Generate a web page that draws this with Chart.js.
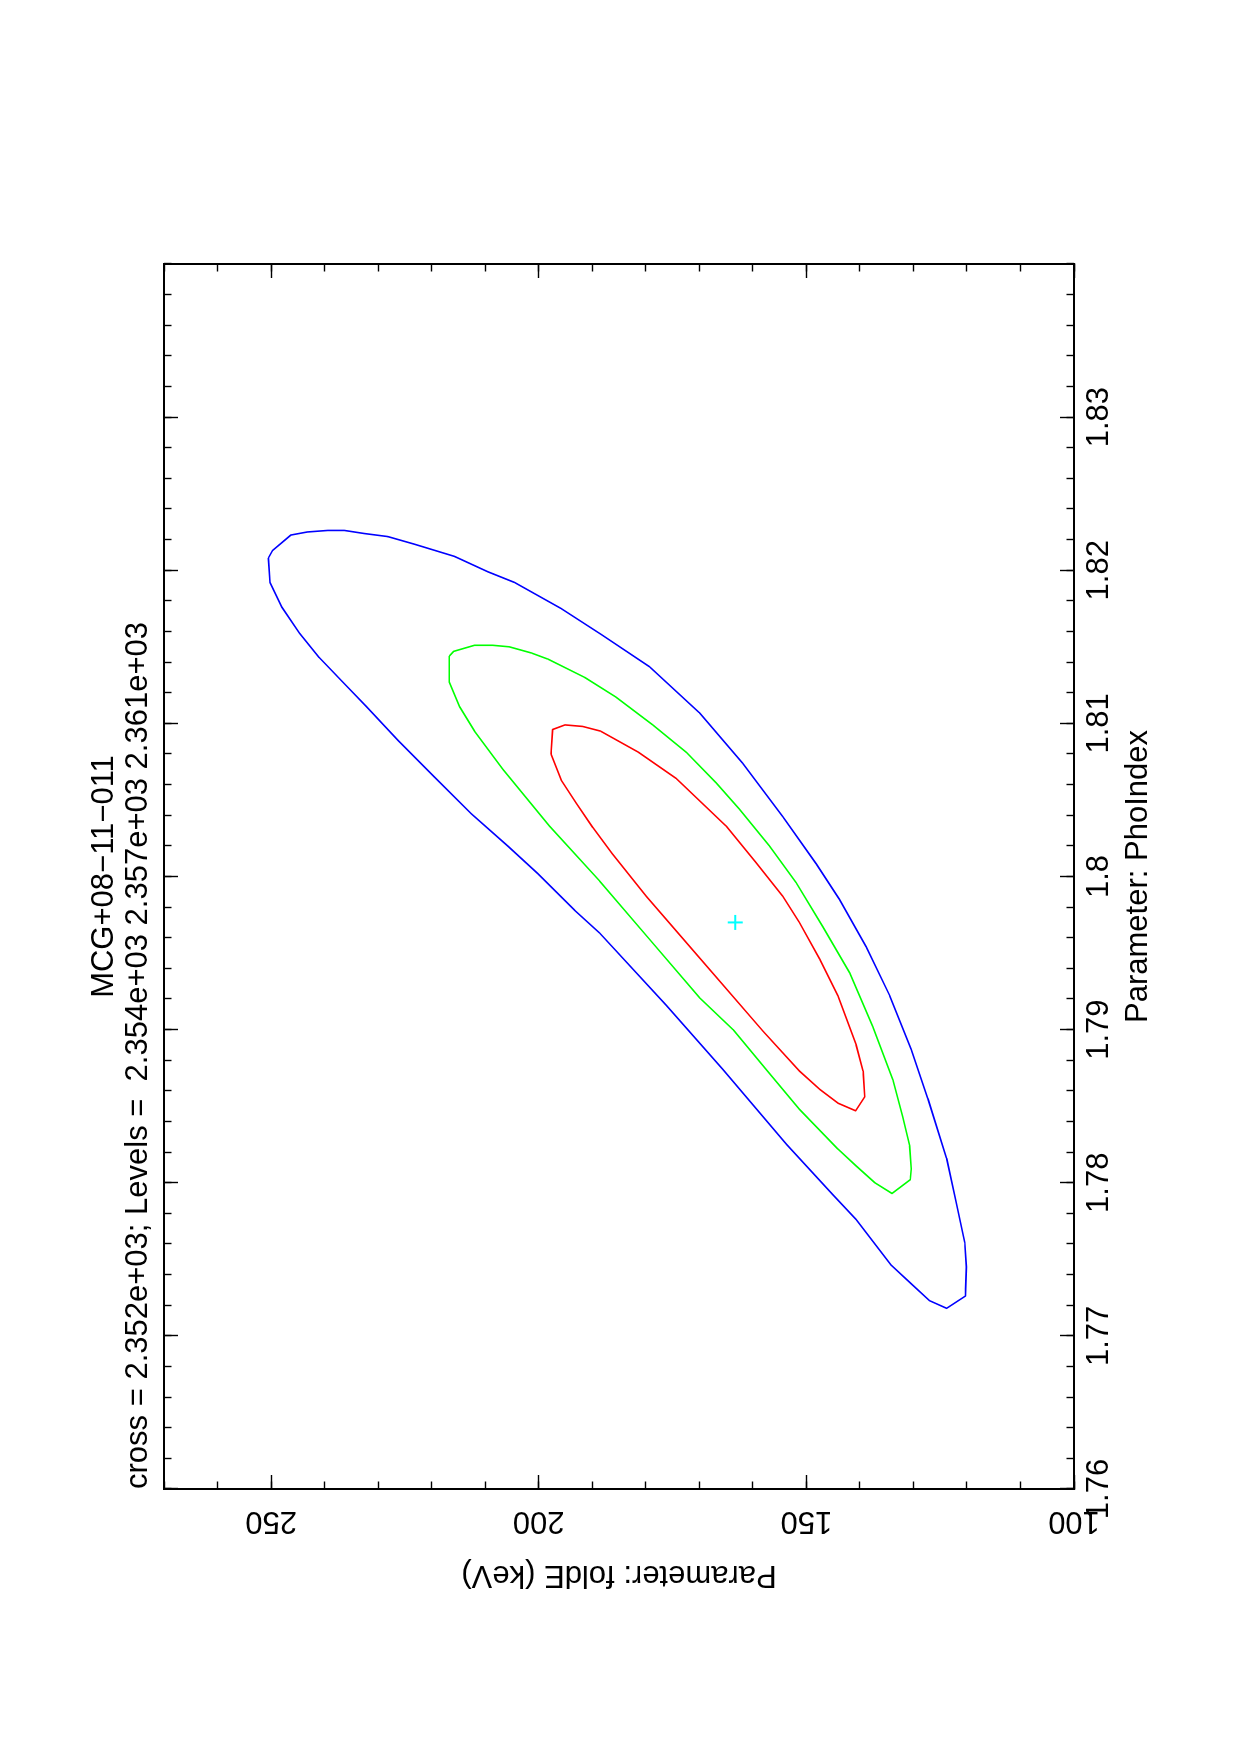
<!DOCTYPE html>
<html>
<head>
<meta charset="utf-8">
<script src="https://cdn.jsdelivr.net/npm/chart.js@4.4.1/dist/chart.umd.min.js"></script>
<style>
  html, body { margin: 0; padding: 0; background: #fff; width: 1240px; height: 1755px; overflow: hidden; }
  /* the plot is drawn landscape and turned a quarter turn, as in the printed page */
  #wrap { position: absolute; left: 0; top: 0; width: 1755px; height: 1240px;
          transform-origin: 0 0; transform: translate(0px, 1755px) rotate(-90deg); }
</style>
</head>
<body>
<div id="wrap"><canvas id="contour" width="1755" height="1240"></canvas></div>
<script>
// axis ticks
const phoTicks = [1.76, 1.77, 1.78, 1.79, 1.80, 1.81, 1.82, 1.83];
const phoLabels = ['1.76', '1.77', '1.78', '1.79', '1.8', '1.81', '1.82', '1.83'];
const foldTicks = [100, 150, 200, 250];
const foldLabels = ['100', '150', '200', '250'];

// contours (PhoIndex, foldE keV)
const bluePho = [1.8208, 1.8213, 1.8223, 1.8225, 1.8226, 1.8226, 1.8224, 1.8222, 1.8217, 1.8209,
  1.8199, 1.8192, 1.8175, 1.8158, 1.8137, 1.8107, 1.8074, 1.8039, 1.8008, 1.7985,
  1.7954, 1.7922, 1.7887, 1.7855, 1.7816, 1.7787, 1.7761, 1.7745, 1.7726, 1.7718,
  1.7723, 1.7735, 1.7746, 1.7776, 1.7792, 1.7825, 1.7874, 1.7916, 1.7963, 1.7978,
  1.8002, 1.8020, 1.8041, 1.8065, 1.8089, 1.8111, 1.8127, 1.8143, 1.8159, 1.8176,
  1.8192, 1.8208];
const blueFold = [250.5, 249.7, 246.3, 243.2, 239.4, 236.3, 232.6, 228.2, 223.2, 215.7,
  209.5, 204.5, 195.8, 188.3, 179.3, 170.0, 161.9, 154.4, 148.1, 143.8,
  138.8, 134.4, 130.4, 127.3, 123.8, 122.0, 120.4, 120.1, 120.3, 123.8,
  127.0, 130.7, 134.1, 140.7, 145.0, 153.7, 165.6, 176.2, 188.6, 193.3,
  200.2, 205.8, 212.6, 219.5, 226.3, 232.2, 236.6, 241.0, 244.7, 248.0,
  250.2, 250.5];

const greenPho = [1.8144, 1.8147, 1.8151, 1.8151, 1.8150, 1.8146, 1.8142, 1.8130, 1.8117, 1.8099,
  1.8081, 1.8061, 1.8044, 1.8020, 1.7996, 1.7967, 1.7937, 1.7902, 1.7867, 1.7843,
  1.7824, 1.7809, 1.7802, 1.7793, 1.7800, 1.7811, 1.7822, 1.7848, 1.7874, 1.7900,
  1.7921, 1.7959, 1.7997, 1.8033, 1.8070, 1.8095, 1.8111, 1.8127, 1.8144];
const greenFold = [216.7, 215.9, 212.0, 208.6, 205.5, 201.4, 198.3, 191.4, 185.5, 178.7,
  172.4, 166.8, 162.5, 156.9, 151.9, 146.9, 141.9, 137.6, 133.8, 132.0,
  130.7, 130.4, 130.6, 134.0, 137.2, 140.7, 144.1, 151.3, 157.5, 163.7,
  170.0, 179.3, 188.6, 198.0, 206.7, 212.0, 214.8, 216.7, 216.7];

const redPho = [1.8080, 1.8096, 1.8099, 1.8098, 1.8095, 1.8081, 1.8064, 1.8033, 1.8009, 1.7987,
  1.7970, 1.7946, 1.7922, 1.7890, 1.7873, 1.7856, 1.7847, 1.7852, 1.7861, 1.7873,
  1.7899, 1.7947, 1.7987, 1.8015, 1.8032, 1.8048, 1.8063, 1.8080];
const redFold = [197.7, 197.4, 195.1, 191.8, 188.5, 181.3, 174.3, 165.0, 159.4, 154.4,
  151.3, 147.5, 144.1, 140.7, 139.4, 139.1, 140.8, 144.1, 147.5, 151.3,
  158.1, 170.0, 179.9, 186.3, 189.9, 193.0, 195.8, 197.7];

// best fit
const crossPho = [1.797];
const crossFold = [163.3];

const FONT = { family: "'Liberation Sans', Arial, Helvetica, sans-serif", size: 31, lineHeight: 1, weight: 'normal' };
const steps = (a, b, d) => Array.from({ length: Math.round((b - a) / d) + 1 }, (_, i) => a + i * d);
const pts = (xs, ys) => xs.map((x, i) => ({ x: x, y: ys[i] }));

// an axis that only draws inward tick marks
function tickAxis(pos, min, max, values, len, border) {
  const horiz = pos === 'top' || pos === 'bottom';
  return {
    type: 'linear', position: pos, min: min, max: max, weight: 0,
    afterBuildTicks: s => { s.ticks = values.map(v => ({ value: v })); },
    afterFit: s => { if (horiz) s.height = 0; else s.width = 0; },
    ticks: { display: false },
    grid: { drawOnChartArea: false, tickLength: -len, tickWidth: 1.4, tickColor: '#000' },
    border: { display: border, color: '#000', width: 2 }
  };
}

const line = (xs, ys, col) => ({
  data: pts(xs, ys), showLine: true, borderColor: col, borderWidth: 1.6,
  pointRadius: 0, fill: false, tension: 0, borderJoinStyle: 'round'
});

new Chart(document.getElementById('contour').getContext('2d'), {
  type: 'scatter',
  data: {
    datasets: [
      line(bluePho, blueFold, '#0000ff'),
      line(greenPho, greenFold, '#00ff00'),
      line(redPho, redFold, '#ff0000'),
      { data: pts(crossPho, crossFold), pointStyle: 'cross', pointRadius: 7.5,
        borderColor: '#00ffff', borderWidth: 2 }
    ]
  },
  options: {
    responsive: false,
    devicePixelRatio: 1,
    animation: false,
    layout: { padding: { left: 0, right: 264, top: 0, bottom: 0 } },
    plugins: {
      legend: { display: false },
      tooltip: { enabled: false },
      title: {
        display: true, text: 'MCG+08\u221211\u2212011', align: 'center', fullSize: false,
        color: '#000', font: FONT, padding: { top: 88.5, bottom: 0 }
      },
      subtitle: {
        display: true, text: 'cross = 2.352e+03; Levels =  2.354e+03 2.357e+03 2.361e+03',
        align: 'start', fullSize: false, color: '#000', font: FONT, padding: { top: 3, bottom: 10.5 }
      }
    },
    scales: {
      x: {
        type: 'linear', position: 'bottom', min: 1.76, max: 1.84, weight: 1,
        afterBuildTicks: s => { s.ticks = phoTicks.map(v => ({ value: v })); },
        afterFit: s => { s.height = 166; },
        ticks: { autoSkip: false, maxRotation: 0, padding: 23.5, color: '#000', font: FONT,
                 callback: (v, i) => phoLabels[i] },
        grid: { drawOnChartArea: false, tickLength: -14, tickWidth: 1.4, tickColor: '#000' },
        border: { display: true, color: '#000', width: 2 },
        title: { display: true, text: 'Parameter: PhoIndex', color: '#000', font: FONT,
                 padding: { top: 0, bottom: 86.5 } }
      },
      xMinor: tickAxis('bottom', 1.76, 1.84, steps(1.76, 1.84, 0.002), 7.5, false),
      xTop: tickAxis('top', 1.76, 1.84, phoTicks, 14, true),
      xTopMinor: tickAxis('top', 1.76, 1.84, steps(1.76, 1.84, 0.002), 7.5, false),
      y: {
        type: 'linear', position: 'left', min: 100, max: 270, weight: 1,
        afterBuildTicks: s => { s.ticks = foldTicks.map(v => ({ value: v })); },
        afterFit: s => { s.width = 266; },
        ticks: { autoSkip: false, minRotation: 90, maxRotation: 90, crossAlign: 'center',
                 padding: 20, color: '#000', font: FONT, callback: (v, i) => foldLabels[i] },
        grid: { drawOnChartArea: false, tickLength: -14, tickWidth: 1.4, tickColor: '#000' },
        border: { display: true, color: '#000', width: 2 },
        title: { display: true, text: 'Parameter: foldE (keV)', color: '#000', font: FONT,
                 padding: { top: 164.5, bottom: 0 } }
      },
      yMinor: tickAxis('left', 100, 270, steps(100, 270, 10), 7.5, false),
      yRight: tickAxis('right', 100, 270, foldTicks, 14, true),
      yRightMinor: tickAxis('right', 100, 270, steps(100, 270, 10), 7.5, false)
    }
  }
});
</script>
</body>
</html>
